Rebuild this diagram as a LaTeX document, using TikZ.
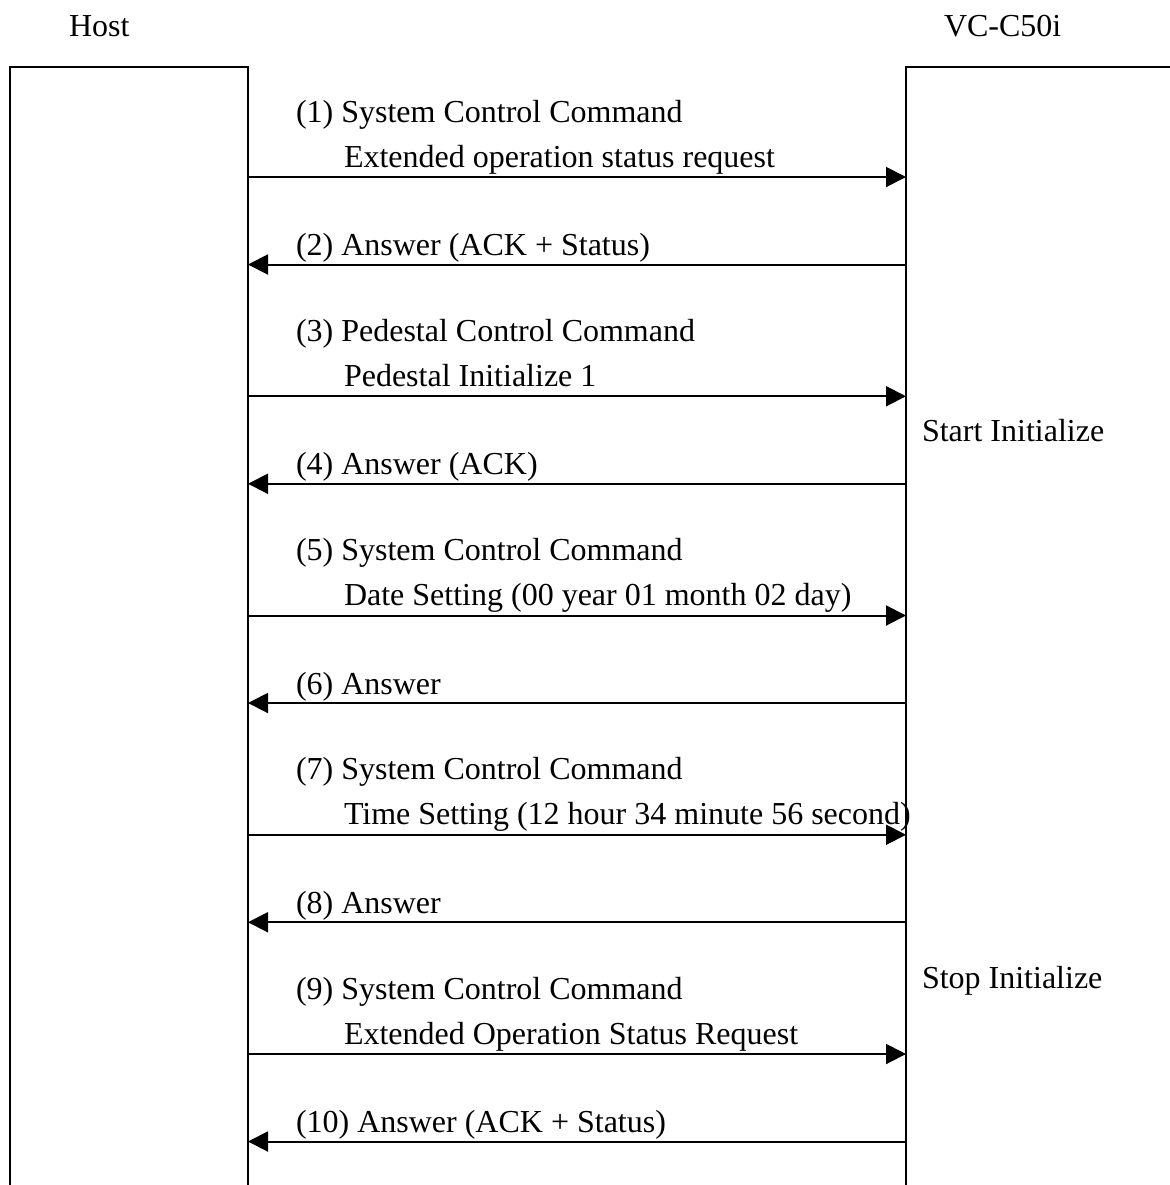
\documentclass[tikz,border=0pt]{standalone}
\usepackage{fontspec}
\setmainfont{Liberation Serif}
\usetikzlibrary{arrows.meta,positioning}

\begin{document}
\begin{tikzpicture}[>={Triangle[length=10pt,width=10pt]},x=0.5pt,y=-0.5pt,line width=1pt,
  lbl/.style={anchor=base west,inner sep=0pt,font=\fontsize{16}{19}\selectfont}]
\useasboundingbox (0,0) rectangle (1170,1185);
\node[lbl] (host) at (68,36) {Host};
\node[lbl] (vc) at (943,36) {VC-C50i};
\draw (10,1185) -- (10,67) -- (248,67) -- (248,1185);
\draw (1170,67) -- (906,67) -- (906,1185);
\foreach \k/\q/\a/\b/\p/\r in {
  0/1/System Control Command/Extended operation status request/2/Answer (ACK + Status),
  1/3/Pedestal Control Command/Pedestal Initialize 1/4/Answer (ACK),
  2/5/System Control Command/Date Setting (00 year 01 month 02 day)/6/Answer,
  3/7/System Control Command/Time Setting (12 hour 34 minute 56 second)/8/Answer,
  4/9/System Control Command/Extended Operation Status Request/10/Answer (ACK + Status)}
{
  \pgfmathsetmacro\yq{177+219.25*\k}
  \pgfmathsetmacro\ya{264.5+219.25*\k}
  \coordinate (hostout\q) at (248,\yq);
  \coordinate (vcin\q) at (906,\yq);
  \coordinate (vcout\p) at (906,\ya);
  \coordinate (hostin\p) at (248,\ya);
  \node[lbl] (cmd\q) at (295,\yq-55) {(\q) \a};
  \node[lbl] (arg\q) at (343,\yq-10) {\b};
  \node[lbl] (ans\p) at (295,\ya-9) {(\p) \r};
  \draw[->] (hostout\q) -- (vcin\q);
  \draw[->] (vcout\p) -- (hostin\p);
}
\node[lbl] (start) at (921,441) {Start Initialize};
\node[lbl] (stop) at (921,988) {Stop Initialize};
\end{tikzpicture}
\end{document}
